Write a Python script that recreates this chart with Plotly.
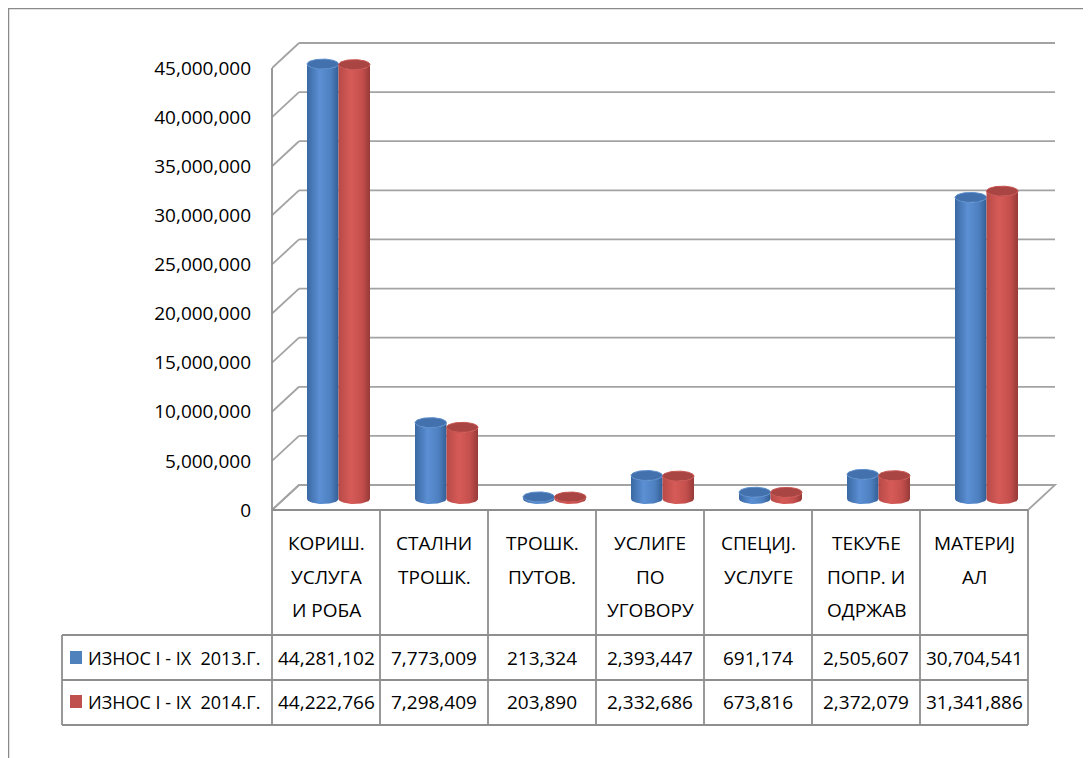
import numpy as np
import plotly.graph_objects as go

# ---------------- data ----------------
categories = ["КОРИШ.<br>УСЛУГА<br>И РОБА", "СТАЛНИ<br>ТРОШК.", "ТРОШК.<br>ПУТОВ.",
              "УСЛИГЕ<br>ПО<br>УГОВОРУ", "СПЕЦИЈ.<br>УСЛУГЕ", "ТЕКУЋЕ<br>ПОПР. И<br>ОДРЖАВ",
              "МАТЕРИЈ<br>АЛ"]
series_names = ["ИЗНОС I - IX  2013.Г.", "ИЗНОС I - IX  2014.Г."]
values_2013 = [44281102, 7773009, 213324, 2393447, 691174, 2505607, 30704541]
values_2014 = [44222766, 7298409, 203890, 2332686, 673816, 2372079, 31341886]
y_ticks = [0, 5000000, 10000000, 15000000, 20000000, 25000000,
           30000000, 35000000, 40000000, 45000000]

# ---------------- layout constants (page pixels) ----------------
PAGE_OFF = 8                 # default body margin of the html page
W, H = 1091 - PAGE_OFF, 758 - PAGE_OFF
FONT = "Open Sans, sans-serif"
FS = 19
GRID = "#a3a3a3"
TABLE_LINE = "#8e8e8e"

FLOOR_LEFT_PX = 272        # x = -0.5
COL_W_PX = 108             # one category
Y0_PX, YMAX_PX = 510, 68   # value 0 and 45M at the front
SCALE = (Y0_PX - YMAX_PX) / 45e6
DEPTH_DX_PX, DEPTH_DY_PX = 27, 25
DOM_L, DOM_R, DOM_T, DOM_B = 272, 1064, 26, 522

ncat = len(categories)
x_rng = [-0.5, -0.5 + (DOM_R - DOM_L) / COL_W_PX]
y_rng = [-(DOM_B - Y0_PX) / SCALE, (Y0_PX - DOM_T) / SCALE]
DX = DEPTH_DX_PX / COL_W_PX
DY = DEPTH_DY_PX / SCALE


def xp(px):
    return (px - PAGE_OFF) / W


def yp(py):
    return 1 - (py - PAGE_OFF) / H


fig = go.Figure()

# ---------------- back wall / left wall / floor ----------------
shapes = []
x_front_l, x_front_r = -0.5, ncat - 0.5
shapes.append(dict(type="path", xref="x", yref="y",
                   path=f"M{x_front_l},0 L{x_front_r},0 L{x_front_r+DX},{DY} L{x_front_l+DX},{DY} Z",
                   line=dict(color=GRID, width=1.8), fillcolor="white", layer="below"))
for v in y_ticks:
    shapes.append(dict(type="line", xref="x", yref="y", x0=x_front_l + DX, x1=x_front_r + DX,
                       y0=v + DY, y1=v + DY, line=dict(color=GRID, width=1.8), layer="below"))
    shapes.append(dict(type="line", xref="x", yref="y", x0=x_front_l, x1=x_front_l + DX,
                       y0=v, y1=v + DY, line=dict(color=GRID, width=1.8), layer="below"))

# ---------------- cylinders ----------------
BAR_W = 31.5 / COL_W_PX
HALF_DX = 12.5 / COL_W_PX
HALF_DY = 11 / SCALE
EA = BAR_W / 2
EB = 5 / SCALE

styles = [
    dict(scale=[[0, "#3a68a3"], [0.4, "#5b90d4"], [0.75, "#4e80c0"], [1, "#345f96"]],
         top="#4371ad", edge="#5d8fcc"),
    dict(scale=[[0, "#b84a47"], [0.4, "#d65b58"], [0.75, "#c44f4c"], [1, "#963a38"]],
         top="#a94542", edge="#c95552"),
]

t_low = np.linspace(np.pi, 2 * np.pi, 40)
t_full = np.linspace(0, 2 * np.pi, 80)

for s, vals in enumerate([values_2013, values_2014]):
    st = styles[s]
    for i, v in enumerate(vals):
        xc = i + (s - 0.5) * BAR_W + HALF_DX
        y0 = HALF_DY
        y1 = v + HALF_DY
        bx = list(xc + EA * np.cos(t_low)) + [xc + EA] + list(xc + EA * np.cos(t_low[::-1]))
        by = list(y0 + EB * np.sin(t_low)) + [y1] + list(y1 + EB * np.sin(t_low[::-1]))
        fig.add_trace(go.Scatter(
            x=bx, y=by, mode="lines", fill="toself", line=dict(width=0),
            fillgradient=dict(type="horizontal", colorscale=st["scale"],
                              start=xc - EA, stop=xc + EA),
            name=series_names[s], showlegend=False, hoverinfo="skip"))
        fig.add_trace(go.Scatter(
            x=xc + EA * np.cos(t_full), y=y1 + EB * np.sin(t_full),
            mode="lines", fill="toself", fillcolor=st["top"],
            line=dict(width=1, color=st["edge"]),
            name=series_names[s], showlegend=False,
            hovertext=f"{series_names[s]}: {v:,}", hoverinfo="text"))

# ---------------- front-left axis line & chart border ----------------
shapes.append(dict(type="line", xref="paper", yref="paper", x0=xp(FLOOR_LEFT_PX), x1=xp(FLOOR_LEFT_PX),
                   y0=yp(YMAX_PX), y1=yp(725), line=dict(color=TABLE_LINE, width=1.8)))
shapes.append(dict(type="line", xref="paper", yref="paper", x0=xp(8.5), x1=xp(8.5),
                   y0=1, y1=0, line=dict(color="#8a8a8a", width=1.5)))
shapes.append(dict(type="line", xref="paper", yref="paper", x0=xp(8.5), x1=1,
                   y0=yp(8.5), y1=yp(8.5), line=dict(color="#8a8a8a", width=1.5)))

# ---------------- data table ----------------
TBL_TOP, ROW1, ROW2, TBL_BOT = 510, 635, 680, 725
TBL_LEFT = 62
col_edges = [FLOOR_LEFT_PX + COL_W_PX * k for k in range(ncat + 1)]
for xe in col_edges[1:]:
    shapes.append(dict(type="line", xref="paper", yref="paper", x0=xp(xe), x1=xp(xe),
                       y0=yp(TBL_TOP), y1=yp(TBL_BOT), line=dict(color=TABLE_LINE, width=1.8)))
shapes.append(dict(type="line", xref="paper", yref="paper", x0=xp(TBL_LEFT), x1=xp(TBL_LEFT),
                   y0=yp(ROW1), y1=yp(TBL_BOT), line=dict(color=TABLE_LINE, width=1.8)))
shapes.append(dict(type="line", xref="paper", yref="paper", x0=xp(FLOOR_LEFT_PX), x1=xp(col_edges[-1]),
                   y0=yp(TBL_TOP), y1=yp(TBL_TOP), line=dict(color=TABLE_LINE, width=1.8)))
for yy in (ROW1, ROW2, TBL_BOT):
    shapes.append(dict(type="line", xref="paper", yref="paper", x0=xp(TBL_LEFT), x1=xp(col_edges[-1]),
                       y0=yp(yy), y1=yp(yy), line=dict(color=TABLE_LINE, width=1.8)))

legend_colors = ["#4f81bd", "#c0504d"]
annotations = []
row_centers = [658, 702]
for s in range(2):
    yc = row_centers[s]
    shapes.append(dict(type="rect", xref="paper", yref="paper", x0=xp(70), x1=xp(82),
                       y0=yp(yc - 7), y1=yp(yc + 6), fillcolor=legend_colors[s], line=dict(width=0)))
    annotations.append(dict(text=series_names[s].replace("  ", "\u00a0 "), xref="paper", yref="paper",
                            x=xp(86), y=yp(yc), xanchor="left", yanchor="middle", showarrow=False,
                            font=dict(family=FONT, size=FS - 1, color="black")))

header_lines_y = [543, 577, 610]
for i, cat in enumerate(categories):
    for k, line in enumerate(cat.split("<br>")):
        annotations.append(dict(text=line, xref="x", yref="paper", x=i, y=yp(header_lines_y[k]),
                                xanchor="center", yanchor="middle", showarrow=False,
                                font=dict(family=FONT, size=FS, color="black")))
    for s, vals in enumerate([values_2013, values_2014]):
        annotations.append(dict(text=f"{vals[i]:,}", xref="x", yref="paper", x=i, y=yp(row_centers[s]),
                                xanchor="center", yanchor="middle", showarrow=False,
                                font=dict(family=FONT, size=FS, color="black")))

fig.update_layout(
    width=W, height=H,
    margin=dict(l=0, r=0, t=0, b=0),
    paper_bgcolor="white", plot_bgcolor="white",
    showlegend=False,
    xaxis=dict(domain=[xp(DOM_L), xp(DOM_R)], range=x_rng, visible=False, fixedrange=True),
    yaxis=dict(domain=[yp(DOM_B), yp(DOM_T)], range=y_rng, tickvals=y_ticks, tickformat=",",
               showgrid=False, zeroline=False, showline=False, ticks="",
               ticklabelstandoff=20,
               tickfont=dict(family=FONT, size=FS, color="black"), fixedrange=True),
    shapes=shapes,
    annotations=annotations,
)

fig.write_html("out.html")
